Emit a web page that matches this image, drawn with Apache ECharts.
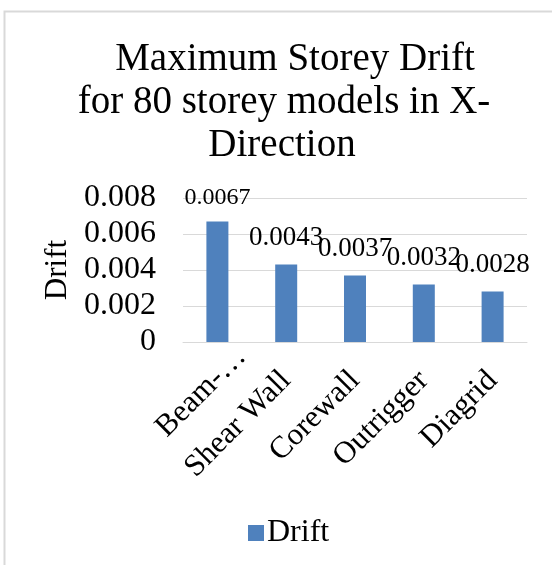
<!DOCTYPE html>
<html>
<head>
<meta charset="utf-8">
<script src="https://cdn.jsdelivr.net/npm/echarts@6/dist/echarts.min.js"></script>
<style>
  html, body { margin: 0; padding: 0; background: #fff; }
  #chart { width: 552px; height: 565px; }
</style>
</head>
<body>
<div id="chart"></div>
<script>
// Storey drift for each structural system (80 storey models, X-direction)
const categories = ['Beam-…', 'Shear Wall', 'Corewall', 'Outrigger', 'Diagrid'];
const driftValues = [0.0067, 0.0043, 0.0037, 0.0032, 0.0028];
const yTicks = { min: 0, max: 0.008, interval: 0.002 };
const titleLines = ['Maximum Storey Drift', 'for 80 storey models in X-', 'Direction'];

const serif = '"Liberation Serif", "Times New Roman", serif';

const chart = echarts.init(document.getElementById('chart'), null, { renderer: 'canvas' });

const barData = driftValues.map((v, i) => {
  if (i === 0) {
    return { value: v, label: { fontSize: 24, distance: 12 } };
  }
  return v;
});

// the truncated first category sits a little further along its diagonal
const axisCategories = categories.map((c, i) => {
  if (i === 0) {
    return { value: c, textStyle: { padding: [0, -34, 0, 0] } };
  }
  return c;
});

// wrapped chart title, one line per title block
const titleCenters = [295, 284, 282];
const titleTops = [40, 83, 126];
const titles = titleLines.map((t, i) => ({
  text: t,
  left: titleCenters[i],
  top: titleTops[i],
  textAlign: 'center',
  padding: 0,
  textStyle: {
    fontFamily: serif,
    fontSize: 39,
    fontWeight: 'normal',
    color: '#000'
  }
}));

chart.setOption({
  animation: false,
  backgroundColor: '#fff',
  title: titles,
  legend: {
    data: ['Drift'],
    left: 243,
    top: 512,
    icon: 'rect',
    itemWidth: 16,
    itemHeight: 16,
    itemGap: 5,
    textStyle: { fontFamily: serif, fontSize: 32, color: '#000', padding: [0, 0, 0, -2] }
  },
  grid: { left: 183, right: 25, top: 198, bottom: 223, containLabel: false },
  xAxis: {
    type: 'category',
    data: axisCategories,
    axisLine: { lineStyle: { color: '#d9d9d9', width: 1 } },
    axisTick: { show: false },
    axisLabel: {
      rotate: 45,
      interval: 0,
      margin: 34,
      fontFamily: serif,
      fontSize: 31,
      color: '#000'
    }
  },
  yAxis: {
    type: 'value',
    min: yTicks.min,
    max: yTicks.max,
    interval: yTicks.interval,
    name: 'Drift',
    nameLocation: 'middle',
    nameRotate: 90,
    nameGap: 108,
    nameTextStyle: { fontFamily: serif, fontSize: 31, color: '#000' },
    axisLine: { show: false },
    axisTick: { show: false },
    splitLine: { lineStyle: { color: '#d9d9d9', width: 1 } },
    axisLabel: {
      margin: 27,
      fontFamily: serif,
      fontSize: 32,
      color: '#000'
    }
  },
  series: [{
    name: 'Drift',
    type: 'bar',
    data: barData,
    barWidth: 22,
    itemStyle: { color: '#4f81bd' },
    label: {
      show: true,
      position: 'top',
      distance: 13,
      fontFamily: serif,
      fontSize: 27,
      color: '#000'
    }
  }],
  graphic: [{
    type: 'polyline',
    shape: { points: [[4.5, 565], [4.5, 11.5], [552, 11.5]] },
    style: { stroke: '#d9d9d9', lineWidth: 2, fill: null },
    silent: true
  }]
});
</script>
</body>
</html>
